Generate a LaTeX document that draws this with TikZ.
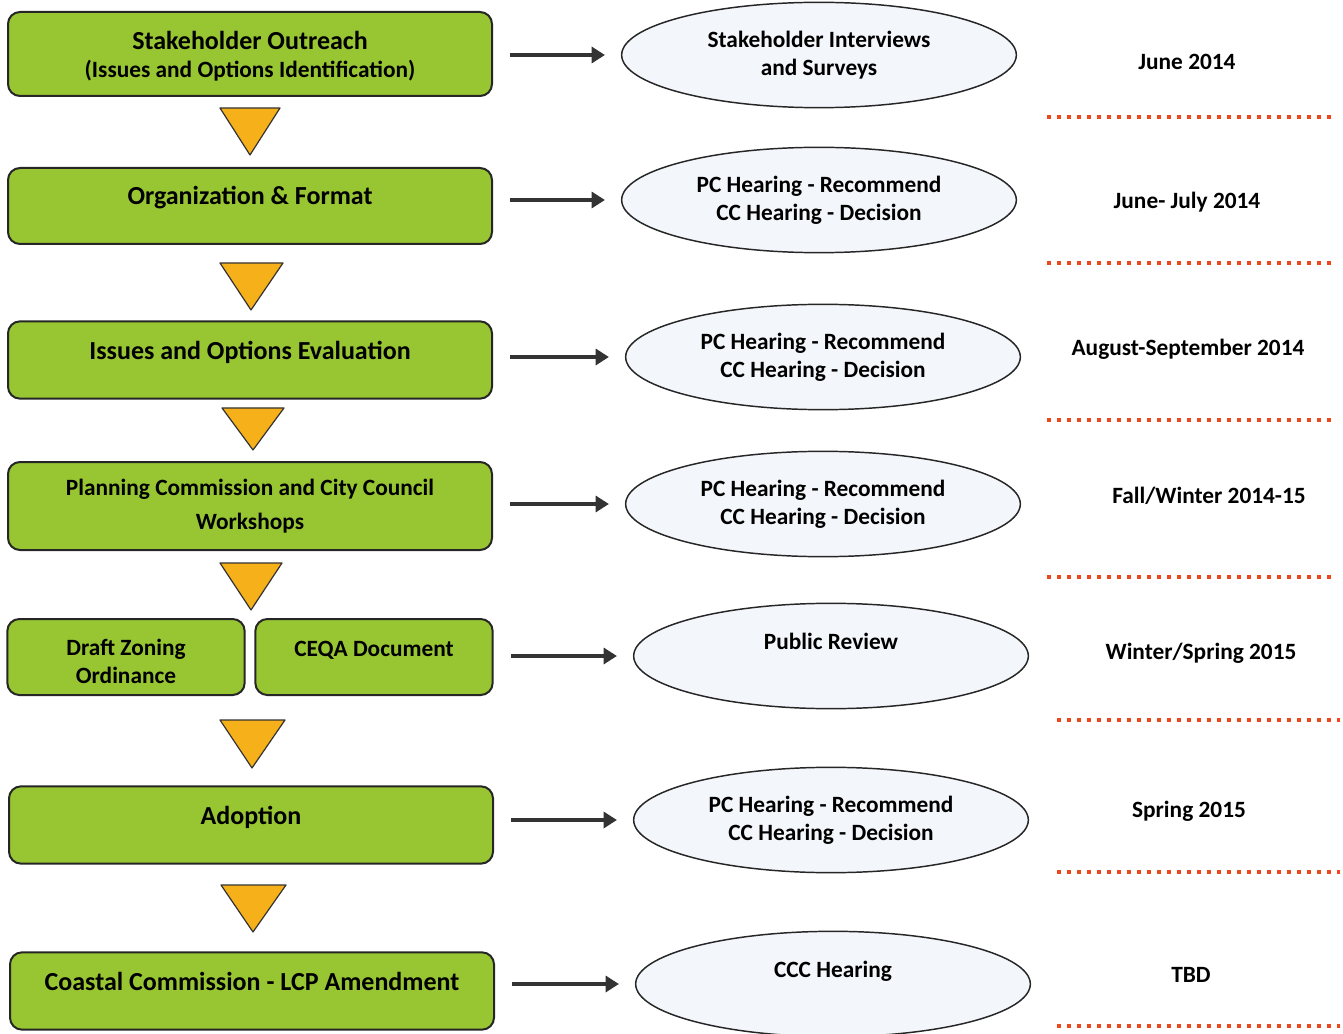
\documentclass[tikz,border=0pt]{standalone}
\usepackage{fontspec}
\setmainfont{Carlito}
\usetikzlibrary{shapes.geometric,arrows.meta}
\definecolor{stagegreen}{RGB}{152,197,50}
\definecolor{markorange}{RGB}{246,176,26}
\definecolor{meetfill}{RGB}{243,246,250}
\definecolor{dotred}{RGB}{236,72,30}
\begin{document}
\begin{tikzpicture}[x=0.75pt,y=-0.75pt,>={Triangle[length=10pt,width=12pt]},
  font=\fontsize{17.5}{21}\selectfont\bfseries,
  stage/.style={rectangle,rounded corners=9pt,draw=black!85,line width=1.5pt,fill=stagegreen,minimum width=363pt,align=center},
  big/.style={font=\fontsize{19.5}{22}\selectfont\bfseries},
  oneline/.style={text height=13pt,text depth=14.5pt},
  meeting/.style={ellipse,draw=black!85,line width=1.1pt,fill=meetfill,minimum width=296pt,minimum height=79pt,align=center},
  toptext/.style={text height=13pt,text depth=23pt},
  flow/.style={->,line width=3pt,draw=black!80,shorten <=13pt,shorten >=12pt},
  marker/.style={fill=markorange,draw=black!80,line width=0.9pt,line join=round},
  sep/.style={draw=dotred,line width=3pt,dash pattern=on 3pt off 4.5pt}]
\useasboundingbox (0,0) rectangle (1343,1034);

% stages
\node (b1) at (250,54)[stage,big,minimum height=63pt,text height=36pt,text depth=0pt]{Stakeholder Outreach\\[-1pt]\fontsize{17.5}{21}\selectfont(Issues and Options Identification)};
\node (b2) at (250,206)[stage,big,oneline,minimum height=57pt]{Organization \& Format};
\node (b3) at (250,360)[stage,big,oneline,minimum height=58pt]{Issues and Options Evaluation};
\node (b4) at (250,506)[stage,minimum height=66pt]{Planning Commission and City Council\\[4pt]Workshops};
\node (b5a) at (126,657)[stage,minimum width=178pt,minimum height=57pt,text height=39pt,text depth=0pt]{Draft Zoning\\Ordinance};
\node (b5b) at (374,657)[stage,oneline,minimum width=178pt,minimum height=57pt]{CEQA Document};
\node (b6) at (251,825)[stage,big,oneline,minimum height=58pt]{Adoption};
\node (b7) at (252,991)[stage,big,oneline,minimum height=58pt]{Coastal Commission - LCP Amendment};

% triangles between stages
\draw[marker] (220,108)--(280,108)--(250,155)--cycle;
\draw[marker] (220,263)--(283,263)--(251,310)--cycle;
\draw[marker] (222,408)--(284,408)--(253,450)--cycle;
\draw[marker] (220,563)--(282,563)--(251,610)--cycle;
\draw[marker] (220,720)--(285,720)--(252,768)--cycle;
\draw[marker] (221,885)--(286,885)--(253,932)--cycle;

% meetings
\node (e1) at (819,55)[meeting]{Stakeholder Interviews\\and Surveys};
\node (e2) at (819,200)[meeting]{PC Hearing - Recommend\\CC Hearing - Decision};
\node (e3) at (823,357)[meeting]{PC Hearing - Recommend\\CC Hearing - Decision};
\node (e4) at (823,504)[meeting]{PC Hearing - Recommend\\CC Hearing - Decision};
\node (e5) at (831,656)[meeting,toptext]{Public Review};
\node (e6) at (831,820)[meeting]{PC Hearing - Recommend\\CC Hearing - Decision};
\node (e7) at (833,984)[meeting,toptext]{CCC Hearing};

\draw[flow] (b1.east |- e1.west)--(e1.west);
\draw[flow] (b2.east |- e2.west)--(e2.west);
\draw[flow] (b3.east |- e3.west)--(e3.west);
\draw[flow] (b4.east |- e4.west)--(e4.west);
\draw[flow] (b5b.east |- e5.west)--(e5.west);
\draw[flow] (b6.east |- e6.west)--(e6.west);
\draw[flow] (b7.east |- e7.west)--(e7.west);

% dates
\node (d1) at (1187,62){June 2014};
\node (d2) at (1187,202){June- July 2014};
\node (d3) at (1188,349){August-September 2014};
\node (d4) at (1209,496){Fall/Winter 2014-15};
\node (d5) at (1201,653){Winter/Spring 2015};
\node (d6) at (1189,811){Spring 2015};
\node (d7) at (1191,975){TBD};

\draw[sep] (1047,117)--(1337,117);
\draw[sep] (1047,263)--(1337,263);
\draw[sep] (1047,420)--(1337,420);
\draw[sep] (1047,577)--(1337,577);
\draw[sep] (1057,720)--(1340,720);
\draw[sep] (1057,872)--(1340,872);
\draw[sep] (1057,1026)--(1340,1026);
\end{tikzpicture}
\end{document}
